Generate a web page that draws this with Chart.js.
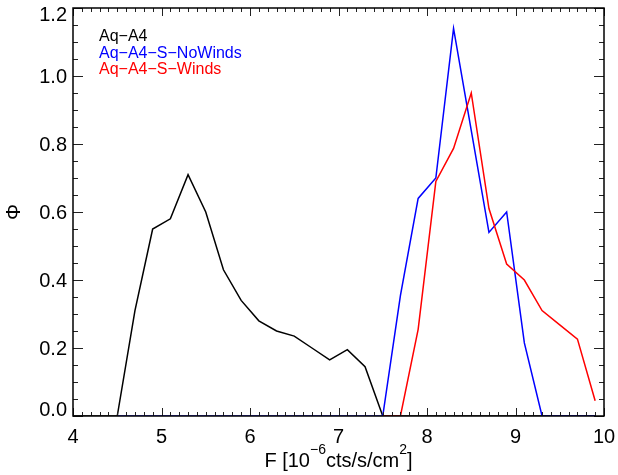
<!DOCTYPE html>
<html lang="en">
<head>
    <meta charset="UTF-8">
    <title>Phi vs F</title>
    <style>
        html, body { margin: 0; padding: 0; background: #fff; }
        #flux-chart { display: block; }
    </style>
</head>
<body>
    <canvas id="flux-chart" width="618" height="475"></canvas>

    <script src="https://cdn.jsdelivr.net/npm/chart.js"></script>
    <script>
        // flux bins [10^-6 cts/s/cm^2]
        const fluxBins = [3.9, 4.1, 4.3, 4.5, 4.7, 4.9, 5.1, 5.3, 5.5, 5.7, 5.9, 6.1, 6.3, 6.5, 6.7, 6.9,
                          7.1, 7.3, 7.5, 7.7, 7.9, 8.1, 8.3, 8.5, 8.7, 8.9, 9.1, 9.3, 9.5, 9.7, 9.9];

        const phiAqA4 = [0, 0, 0, 0, 0.31, 0.55, 0.58, 0.71, 0.60, 0.43, 0.34, 0.28, 0.25, 0.235, 0.20, 0.165,
                         0.195, 0.145, 0, 0, 0, 0, 0, 0, 0, 0, 0, 0, 0, 0, 0];
        const phiNoWinds = [null, null, null, 0, 0, 0, 0, 0, 0, 0, 0, 0, 0, 0, 0, 0,
                            0, 0, 0, 0.355, 0.64, 0.70, 1.14, 0.84, 0.54, 0.60, 0.215, 0, 0, 0, 0];
        const phiWinds = [null, null, null, null, null, null, null, null, null, null, null, null, null, null, null, null,
                          null, null, 0, 0, 0.255, 0.69, 0.787, 0.95, 0.61, 0.447, 0.40, 0.31, 0.268, 0.226, 0.045];

        const seriesNames = ['Aq\u2212A4', 'Aq\u2212A4\u2212S\u2212NoWinds', 'Aq\u2212A4\u2212S\u2212Winds'];
        const seriesColors = ['#000000', '#0000ff', '#ff0000'];

        const xTicks = [4, 5, 6, 7, 8, 9, 10];
        const yTicks = ['0.0', '0.2', '0.4', '0.6', '0.8', '1.0', '1.2'];

        const FONT = '"Liberation Sans", Arial, Helvetica, sans-serif';

        function toPoints(values) {
            return fluxBins.map((f, i) => ({ x: f, y: values[i] }));
        }

        // IDL style frame: box, inward ticks on all sides, labels, legend
        const framePlugin = {
            id: 'frame',
            afterDraw(chart) {
                const ctx = chart.ctx;
                const area = chart.chartArea;
                const xs = chart.scales.x;
                const ys = chart.scales.y;
                ctx.save();

                ctx.strokeStyle = '#222';
                ctx.lineWidth = 1;
                ctx.beginPath();
                // x ticks, minor every 0.1
                for (let i = 0; i <= 60; i++) {
                    const v = 4 + i * 0.1;
                    const px = Math.round(xs.getPixelForValue(v)) + 0.5;
                    const len = (i % 10 === 0) ? 8 : 4;
                    ctx.moveTo(px, area.bottom);
                    ctx.lineTo(px, area.bottom - len);
                    ctx.moveTo(px, area.top);
                    ctx.lineTo(px, area.top + len);
                }
                // y ticks, minor every 0.05
                for (let i = 0; i <= 24; i++) {
                    const v = i * 0.05;
                    const py = Math.round(ys.getPixelForValue(v)) + 0.5;
                    const len = (i % 4 === 0) ? 10 : 5;
                    ctx.moveTo(area.left, py);
                    ctx.lineTo(area.left + len, py);
                    ctx.moveTo(area.right, py);
                    ctx.lineTo(area.right - len, py);
                }
                ctx.stroke();

                ctx.strokeStyle = '#000';
                ctx.lineWidth = 1.5;
                ctx.strokeRect(area.left, area.top, area.right - area.left, area.bottom - area.top);

                // tick labels
                ctx.fillStyle = '#000';
                ctx.font = '20px ' + FONT;
                ctx.textBaseline = 'alphabetic';
                ctx.textAlign = 'center';
                xTicks.forEach(t => {
                    ctx.fillText(String(t), xs.getPixelForValue(t), 443);
                });
                ctx.textAlign = 'right';
                yTicks.forEach((t, i) => {
                    let py = ys.getPixelForValue(parseFloat(t)) + 7;
                    if (i === 0) py -= 7;
                    if (i === yTicks.length - 1) py += 6;
                    ctx.fillText(t, 67, py);
                });

                // x title with superscripts
                const parts = [
                    ['F [10', 20, 0], ['\u22126', 14, 13], ['cts/s/cm', 20, 0], ['2', 14, 13], [']', 20, 0]
                ];
                let total = 0;
                parts.forEach(p => { ctx.font = p[1] + 'px ' + FONT; total += ctx.measureText(p[0]).width; });
                let tx = (area.left + area.right) / 2 - total / 2;
                ctx.textAlign = 'left';
                parts.forEach(p => {
                    ctx.font = p[1] + 'px ' + FONT;
                    ctx.fillText(p[0], tx, 467 - p[2]);
                    tx += ctx.measureText(p[0]).width;
                });

                // y title
                ctx.save();
                ctx.translate(20, (area.top + area.bottom) / 2);
                ctx.rotate(-Math.PI / 2);
                ctx.textAlign = 'center';
                ctx.font = '20px ' + FONT;
                ctx.fillText('\u03A6', 0, 0);
                ctx.restore();

                // legend
                ctx.font = '16px ' + FONT;
                ctx.textAlign = 'left';
                seriesNames.forEach((name, i) => {
                    ctx.fillStyle = seriesColors[i];
                    ctx.fillText(name, 99, 41 + i * 16.5);
                });

                ctx.restore();
            }
        };

        const datasets = [phiAqA4, phiNoWinds, phiWinds].map((vals, i) => ({
            label: seriesNames[i],
            data: toPoints(vals),
            borderColor: seriesColors[i],
            borderWidth: 1.5,
            pointRadius: 0,
            tension: 0,
            fill: false,
            spanGaps: false,
            order: 3 - i  // red on top, black at the bottom
        }));

        new Chart(document.getElementById('flux-chart').getContext('2d'), {
            type: 'line',
            data: { datasets: datasets },
            options: {
                responsive: false,
                animation: false,
                layout: { padding: { left: 73, right: 14, top: 8, bottom: 59 } },
                plugins: {
                    legend: { display: false },
                    tooltip: { enabled: false }
                },
                scales: {
                    x: { type: 'linear', min: 4, max: 10, display: false },
                    y: { type: 'linear', min: 0, max: 1.2, display: false }
                }
            },
            plugins: [framePlugin]
        });
    </script>
</body>
</html>
